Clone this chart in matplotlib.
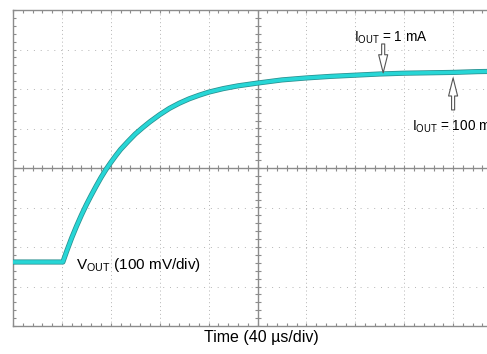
import numpy as np
import matplotlib
matplotlib.use("Agg")
import matplotlib.pyplot as plt
from matplotlib.ticker import MultipleLocator

plt.rcParams['font.family'] = ['Liberation Sans', 'DejaVu Sans']
plt.rcParams['mathtext.fontset'] = 'custom'
plt.rcParams['mathtext.rm'] = 'Liberation Sans'

# scope trace, in divisions (x: 0..10, y: -4..4)
t_div = [0.0, 0.5, 1.02, 1.10, 1.20, 1.30, 1.40, 1.50, 1.60, 1.70, 1.80, 1.90,
         2.00, 2.10, 2.20, 2.35, 2.50, 2.65, 2.80, 3.00, 3.20, 3.40, 3.60, 3.80,
         4.00, 4.30, 4.60, 5.00, 5.50, 6.00, 6.50, 7.00, 7.50, 8.00, 8.50, 9.00,
         9.50, 10.0]
vout_div = [-2.38, -2.38, -2.38, -2.10, -1.77, -1.47, -1.19, -0.93, -0.69, -0.46,
            -0.24, -0.04, 0.14, 0.31, 0.47, 0.67, 0.86, 1.02, 1.17, 1.35, 1.51,
            1.64, 1.75, 1.84, 1.92, 2.01, 2.08, 2.15, 2.23, 2.28, 2.32, 2.35,
            2.38, 2.40, 2.41, 2.42, 2.44, 2.45]

# arrow markers (x, tail y, tip y) and their labels
arrow_1ma = [7.57, 3.14, 2.41]
arrow_100ma = [9.0, 1.47, 2.28]
label_1ma = r'I$_\mathregular{OUT}$ = 1 mA'
label_100ma = r'I$_\mathregular{OUT}$ = 100 mA'
label_vout = r'V$_\mathregular{OUT}$ (100 mV/div)'
label_time = 'Time (40 µs/div)'

fig = plt.figure(figsize=(4.87, 3.54), dpi=100)
ax = fig.add_axes([13 / 487, 28 / 354, 489 / 487, 316 / 354])
ax.set_xlim(0, 10)
ax.set_ylim(-4, 4)

frame = '#8c8c8c'
for s in ax.spines.values():
    s.set_color(frame)
    s.set_linewidth(1.0)

ax.xaxis.set_major_locator(MultipleLocator(1))
ax.yaxis.set_major_locator(MultipleLocator(1))
ax.xaxis.set_minor_locator(MultipleLocator(0.2))
ax.yaxis.set_minor_locator(MultipleLocator(0.2))
ax.tick_params(which='both', direction='in', length=2.5, width=0.8, color=frame,
               top=True, right=True, labelbottom=False, labelleft=False)

ax.xaxis.grid(True, which='major', color='#b4b4b4', lw=0.7, ls=(0, (1, 3)))
ax.yaxis.grid(True, which='major', color='#b4b4b4', lw=0.7, ls=(0, (1, 6)))

# center cross with its small ticks
ax.axhline(0, color=frame, lw=1.0)
ax.axvline(5, color=frame, lw=1.0)
minor = np.arange(0, 10.01, 0.2)
ax.plot(minor, np.zeros_like(minor), ls='none', marker='|', ms=4, mew=0.8, color=frame)
minor_y = np.arange(-4, 4.01, 0.2)
ax.plot(np.full_like(minor_y, 5), minor_y, ls='none', marker='_', ms=4, mew=0.8, color=frame)

# trace: dark edge under a cyan core
ax.plot(t_div, vout_div, color='#2a8f8f', lw=3.7, solid_joinstyle='round', zorder=3)
ax.plot(t_div, vout_div, color='#27d6d6', lw=2.6, solid_joinstyle='round', zorder=4)

arrow_kw = dict(arrowstyle='simple,head_length=1.3,head_width=0.65,tail_width=0.22',
                fc='white', ec='#555555', lw=0.8, shrinkA=0, shrinkB=0,
                mutation_scale=10)
ax.annotate('', xy=(arrow_1ma[0], arrow_1ma[2]), xytext=(arrow_1ma[0], arrow_1ma[1]),
            arrowprops=arrow_kw, zorder=5)
ax.annotate('', xy=(arrow_100ma[0], arrow_100ma[2]), xytext=(arrow_100ma[0], arrow_100ma[1]),
            arrowprops=arrow_kw, zorder=5)

ax.text(6.97, 3.19, label_1ma, fontsize=9.8, ha='left', va='baseline')
ax.text(8.16, 0.94, label_100ma, fontsize=9.8, ha='left', va='baseline')
ax.text(1.29, -2.55, label_vout, fontsize=11, ha='left', va='baseline')
fig.text(261 / 487, 1 - 342 / 354, label_time, fontsize=11.5, ha='center', va='baseline')

plt.savefig('out.png', dpi=100)
